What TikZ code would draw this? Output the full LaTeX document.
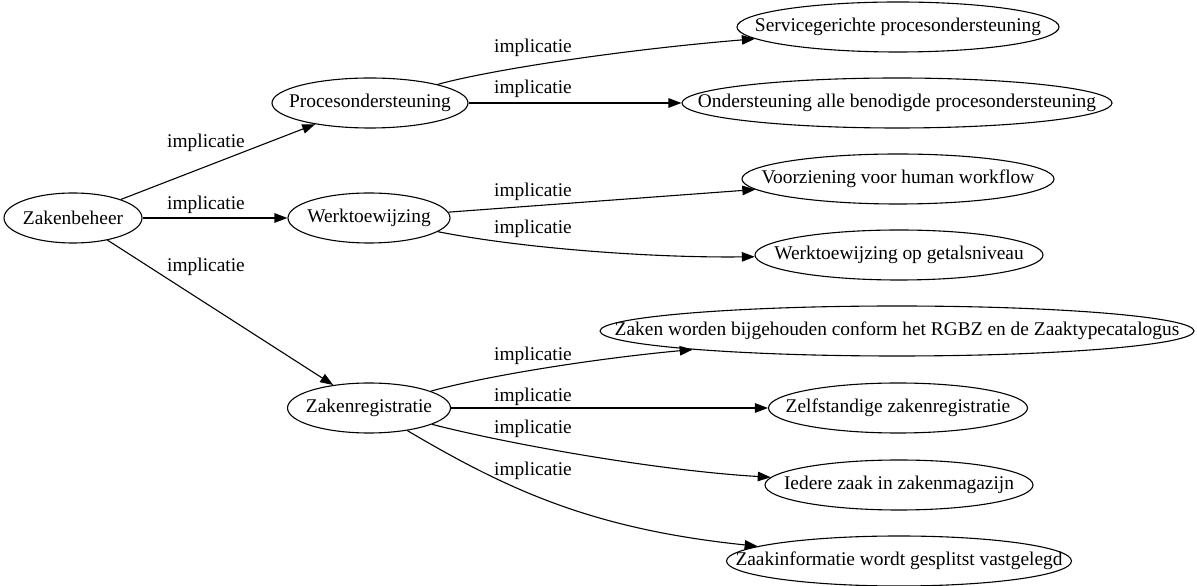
\documentclass[tikz,border=0pt]{standalone}
\usepackage{fontspec}
\setmainfont{Liberation Serif}
\usetikzlibrary{shapes.geometric,arrows.meta}
\begin{document}
\begin{tikzpicture}[x=1pt,y=1pt,
  ell/.style={ellipse,draw,line width=1.1pt,minimum height=50pt,inner sep=0pt,
    font=\fontsize{19.4}{21}\selectfont},
  lab/.style={inner sep=0pt,font=\fontsize{19.4}{21}\selectfont},
  edge/.style={line width=1.1pt,-{Triangle[length=13pt,width=9.5pt]}}]
\useasboundingbox (0,0) rectangle (1197,586);
\newcommand{\ztxt}[1]{\makebox[0pt]{#1}}
% nodes
\node[ell,minimum width=138pt] (zb) at (73,368) {\ztxt{Zakenbeheer}};
\node[ell,minimum width=196pt] (proc) at (370,483) {\ztxt{Procesondersteuning}};
\node[ell,minimum width=162pt] (werk) at (369,368) {\ztxt{Werktoewijzing}};
\node[ell,minimum width=163pt] (zreg) at (369,178) {\ztxt{Zakenregistratie}};
\node[ell,minimum width=322pt] (sv) at (898,559) {\ztxt{Servicegerichte procesondersteuning}};
\node[ell,minimum width=430pt] (ond) at (897,483) {\ztxt{Ondersteuning alle benodigde procesondersteuning}};
\node[ell,minimum width=312pt] (voor) at (898,407) {\ztxt{Voorziening voor human workflow}};
\node[ell,minimum width=288pt] (wop) at (899,331) {\ztxt{Werktoewijzing op getalsniveau}};
\node[ell,minimum width=594pt] (zaken) at (897,255) {\ztxt{Zaken worden bijgehouden conform het RGBZ en de Zaaktypecatalogus}};
\node[ell,minimum width=259pt] (zelf) at (898,178) {\ztxt{Zelfstandige zakenregistratie}};
\node[ell,minimum width=268pt] (ied) at (899,101) {\ztxt{Iedere zaak in zakenmagazijn}};
\node[ell,minimum width=345pt] (zinfo) at (899,25) {\ztxt{Zaakinformatie wordt gesplitst vastgelegd}};
% edges
\draw[edge] (zb) -- (proc);
\draw[edge] (zb) -- (werk);
\draw[edge] (zb) -- (zreg);
\draw[edge] (proc) .. controls (490,516) and (620,536) .. (sv);
\draw[edge] (proc) -- (ond);
\draw[edge] (werk) -- (voor);
\draw[edge] (werk) .. controls (520,338) and (650,328) .. (wop);
\draw[edge] (zreg) .. controls (490,211) and (600,228) .. (zaken);
\draw[edge] (zreg) -- (zelf);
\draw[edge] (zreg) .. controls (500,144) and (650,116) .. (ied);
\draw[edge] (zreg) .. controls (508,96) and (592,57) .. (zinfo);
% labels
\node[lab] (l1) at (206,443) {implicatie};
\node[lab] (l2) at (206,381) {implicatie};
\node[lab] (l3) at (206,319) {implicatie};
\node[lab] (l4) at (533,538) {implicatie};
\node[lab] (l5) at (533,497) {implicatie};
\node[lab] (l6) at (533,394) {implicatie};
\node[lab] (l7) at (533,357) {implicatie};
\node[lab] (l8) at (533,230) {implicatie};
\node[lab] (l9) at (533,189) {implicatie};
\node[lab] (l10) at (533,157) {implicatie};
\node[lab] (l11) at (533,115) {implicatie};
\end{tikzpicture}
\end{document}
